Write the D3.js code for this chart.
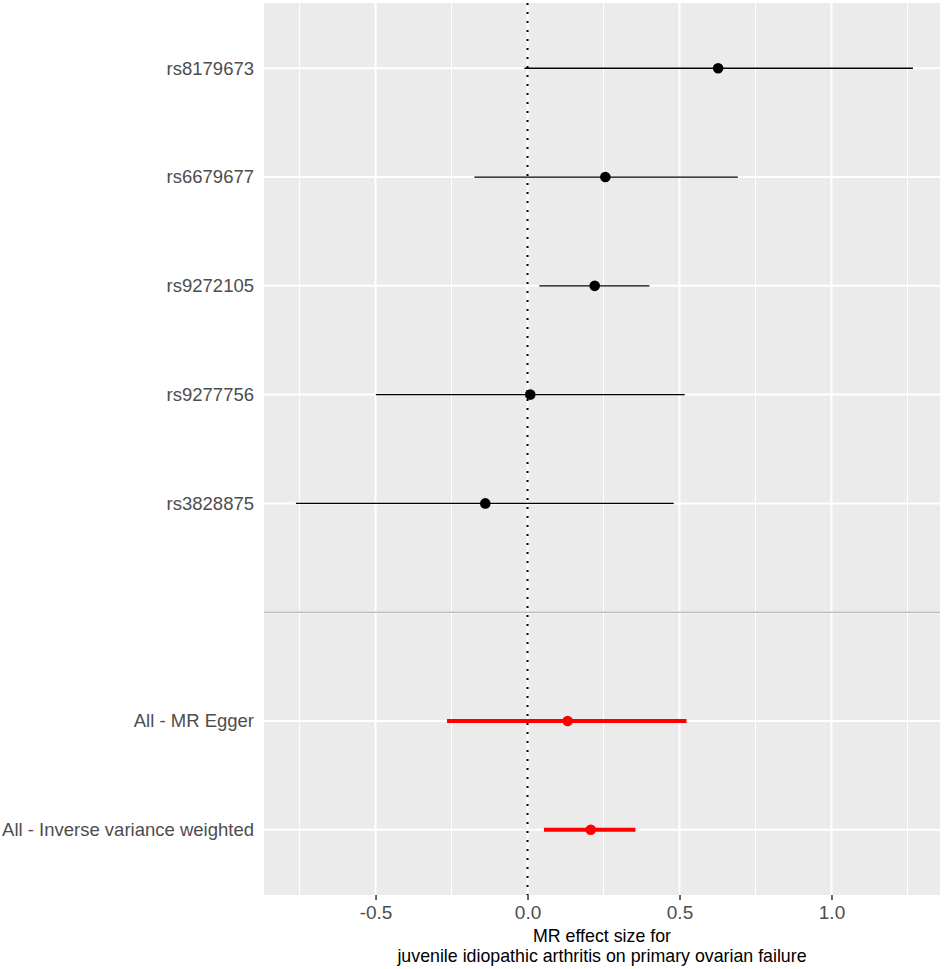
<!DOCTYPE html>
<html>
<head>
<meta charset="UTF-8">
<script src="https://d3js.org/d3.v7.min.js"></script>
<style>
  body { margin: 0; background: white; }
  svg { display: block; font-family: "Liberation Sans", Arial, sans-serif; }
</style>
</head>
<body>
<div id="chart"><svg></svg></div>
<script>
// data
const labels = ["rs8179673", "rs6679677", "rs9272105", "rs9277756", "rs3828875", "",
                "All - MR Egger", "All - Inverse variance weighted"];
const estimates = [0.627, 0.256, 0.221, 0.009, -0.139, null, 0.132, 0.208];
const lower = [-0.010, -0.175, 0.039, -0.499, -0.762, null, -0.265, 0.054];
const upper = [1.268, 0.692, 0.401, 0.517, 0.481, null, 0.523, 0.355];
const isSummary = [false, false, false, false, false, false, true, true];
const xTicks = [-0.5, 0.0, 0.5, 1.0];
const xTickLabels = ["-0.5", "0.0", "0.5", "1.0"];
const xMinor = [-0.75, -0.25, 0.25, 0.75, 1.25];

const width = 945, height = 969;
const panel = { left: 264, right: 940, top: 3, bottom: 895 };

const svg = d3.select("#chart svg")
    .attr("width", width)
    .attr("height", height);

const x = d3.scaleLinear()
    .domain([-0.867, 1.357])
    .range([panel.left, panel.right]);

const y = d3.scalePoint()
    .domain(labels)
    .range([panel.top, panel.bottom])
    .padding(0.6);

// panel background
svg.append("rect")
    .attr("x", panel.left)
    .attr("y", panel.top)
    .attr("width", panel.right - panel.left)
    .attr("height", panel.bottom - panel.top)
    .attr("fill", "#ebebeb");

// minor gridlines
svg.append("g").selectAll("line")
    .data(xMinor)
    .join("line")
    .attr("x1", d => x(d)).attr("x2", d => x(d))
    .attr("y1", panel.top).attr("y2", panel.bottom)
    .attr("stroke", "white")
    .attr("stroke-width", 1);

// major gridlines
svg.append("g").selectAll("line")
    .data(xTicks)
    .join("line")
    .attr("x1", d => x(d)).attr("x2", d => x(d))
    .attr("y1", panel.top).attr("y2", panel.bottom)
    .attr("stroke", "white")
    .attr("stroke-width", 2);

svg.append("g").selectAll("line")
    .data(labels)
    .join("line")
    .attr("x1", panel.left).attr("x2", panel.right)
    .attr("y1", d => y(d)).attr("y2", d => y(d))
    .attr("stroke", "white")
    .attr("stroke-width", 2);

// separator between SNPs and summary estimates
svg.append("line")
    .attr("x1", panel.left).attr("x2", panel.right)
    .attr("y1", y("")).attr("y2", y(""))
    .attr("stroke", "#bebebe")
    .attr("stroke-width", 1.5);

// null line
svg.append("line")
    .attr("x1", x(0)).attr("x2", x(0))
    .attr("y1", panel.top).attr("y2", panel.bottom)
    .attr("stroke", "black")
    .attr("stroke-width", 2)
    .attr("stroke-dasharray", "2,7");

const rows = labels.map((l, i) => ({
    label: l, b: estimates[i], lo: lower[i], hi: upper[i], summary: isSummary[i]
})).filter(d => d.b !== null);

// confidence intervals
svg.append("g").selectAll("line")
    .data(rows)
    .join("line")
    .attr("x1", d => x(d.lo)).attr("x2", d => x(d.hi))
    .attr("y1", d => y(d.label)).attr("y2", d => y(d.label))
    .attr("stroke", d => d.summary ? "red" : "black")
    .attr("stroke-width", d => d.summary ? 4 : 1.3);

// point estimates
svg.append("g").selectAll("circle")
    .data(rows)
    .join("circle")
    .attr("cx", d => x(d.b))
    .attr("cy", d => y(d.label))
    .attr("r", 5.3)
    .attr("fill", d => d.summary ? "red" : "black");

// x axis
const xAxis = svg.append("g")
    .attr("transform", `translate(0,${panel.bottom})`)
    .call(d3.axisBottom(x).tickValues(xTicks)
        .tickFormat((d, i) => xTickLabels[i]).tickSize(5).tickPadding(6));
xAxis.select(".domain").remove();
xAxis.selectAll(".tick line").attr("stroke", "#333333").attr("stroke-width", 1.5);
xAxis.selectAll(".tick text")
    .attr("fill", "#4d4d4d")
    .style("font-size", "19px");

// y axis labels
const yAxis = svg.append("g")
    .attr("transform", `translate(${panel.left},0)`)
    .call(d3.axisLeft(y).tickSize(0).tickPadding(10));
yAxis.select(".domain").remove();
yAxis.selectAll(".tick text")
    .attr("fill", "#4d4d4d")
    .style("font-size", "18.5px");

// axis title
const cx = (panel.left + panel.right) / 2;
const title = svg.append("text")
    .attr("text-anchor", "middle")
    .attr("fill", "black")
    .style("font-size", "17.8px");
title.append("tspan").attr("x", cx).attr("y", 942).text("MR effect size for");
title.append("tspan").attr("x", cx).attr("y", 962).text("juvenile idiopathic arthritis on primary ovarian failure");
</script>
</body>
</html>
